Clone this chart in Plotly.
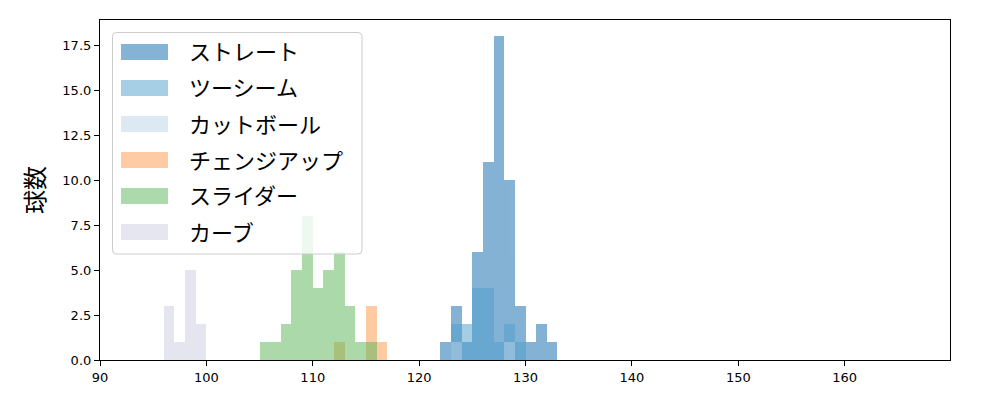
import plotly.graph_objects as go

# pitch types in draw / legend order
pitch_names = ["ストレート", "ツーシーム", "カットボール", "チェンジアップ", "スライダー", "カーブ"]
pitch_colors = [
    "rgb(11,103,173)",
    "rgb(77,157,203)",
    "rgb(185,209,229)",
    "rgb(251,153,75)",
    "rgb(89,181,85)",
    "rgb(205,205,225)",
]

# histogram bins (left edge, km/h) and counts, 1 km/h wide
straight_bins = [122, 123, 124, 125, 126, 127, 128, 129, 130, 131, 132]
straight_counts = [1, 3, 1, 6, 11, 18, 10, 3, 1, 2, 1]
twoseam_bins = [123, 124, 125, 126, 127, 128, 129]
twoseam_counts = [2, 2, 4, 4, 1, 2, 1]
cutter_bins = [123, 128]
cutter_counts = [1, 1]
change_bins = [112, 115, 116]
change_counts = [1, 3, 1]
slider_bins = [105, 106, 107, 108, 109, 110, 111, 112, 113, 114, 115]
slider_counts = [1, 1, 2, 5, 8, 4, 5, 6, 3, 1, 1]
curve_bins = [96, 97, 98, 99]
curve_counts = [3, 1, 5, 2]

x_ticks = [90, 100, 110, 120, 130, 140, 150, 160]
y_ticks = [0, 2.5, 5, 7.5, 10, 12.5, 15, 17.5]

series = [
    (straight_bins, straight_counts),
    (twoseam_bins, twoseam_counts),
    (cutter_bins, cutter_counts),
    (change_bins, change_counts),
    (slider_bins, slider_counts),
    (curve_bins, curve_counts),
]

# the page body adds an 8px margin, so the figure is sized to compensate
OFF = 8
W, H = 1000 - OFF, 400 - OFF
L, R, T, B = 100 - OFF, 50, 20 - OFF, 40
PW, PH = W - L - R, H - T - B


def px_x(px):
    return (px - OFF - L) / PW


def px_y(py):
    return (H - B - (py - OFF)) / PH


fig = go.Figure()
for name, color, (bins, counts) in zip(pitch_names, pitch_colors, series):
    fig.add_trace(
        go.Bar(
            x=bins,
            y=counts,
            width=1,
            offset=0,
            name=name,
            marker={"color": color, "line": {"width": 0}},
            opacity=0.5,
            showlegend=False,
        )
    )

# matplotlib-style legend box drawn over the bars
x0, x1 = px_x(112.5), px_x(362)
y0, y1 = px_y(254), px_y(32.5)
rx, ry = 4 / PW, 4 / PH
path = (
    f"M{x0 + rx},{y1} L{x1 - rx},{y1} Q{x1},{y1} {x1},{y1 - ry} "
    f"L{x1},{y0 + ry} Q{x1},{y0} {x1 - rx},{y0} "
    f"L{x0 + rx},{y0} Q{x0},{y0} {x0},{y0 + ry} "
    f"L{x0},{y1 - ry} Q{x0},{y1} {x0 + rx},{y1} Z"
)
shapes = [
    dict(
        type="path", xref="paper", yref="paper", path=path,
        fillcolor="rgba(255,255,255,0.8)", line={"color": "#cccccc", "width": 1},
        layer="above",
    )
]
annotations = []
for i, (name, color) in enumerate(zip(pitch_names, pitch_colors)):
    cy = 52 + 36 * i
    shapes.append(
        dict(
            type="rect", xref="paper", yref="paper",
            x0=px_x(121), x1=px_x(168), y0=px_y(cy + 8), y1=px_y(cy - 8),
            fillcolor=color, opacity=0.5, line={"width": 0}, layer="above",
        )
    )
    annotations.append(
        dict(
            xref="paper", yref="paper", x=px_x(187), y=px_y(cy + 1),
            xanchor="left", yanchor="middle", text=name, showarrow=False,
            font={"size": 22, "color": "#000000"},
        )
    )

fig.update_layout(
    width=W,
    height=H,
    margin={"l": L, "r": R, "t": T, "b": B},
    barmode="overlay",
    bargap=0,
    plot_bgcolor="white",
    paper_bgcolor="white",
    font={"family": "DejaVu Sans, Noto Sans CJK JP, sans-serif", "size": 13, "color": "#000000"},
    shapes=shapes,
    annotations=annotations,
    xaxis={
        "range": [90, 169.9],
        "tickvals": x_ticks,
        "ticks": "outside",
        "ticklen": 5,
        "tickwidth": 1,
        "tickcolor": "#000000",
        "showline": True,
        "linecolor": "#000000",
        "linewidth": 1.2,
        "mirror": True,
        "showgrid": False,
        "zeroline": False,
    },
    yaxis={
        "range": [0, 18.9],
        "tickvals": y_ticks,
        "tickformat": ".1f",
        "ticks": "outside",
        "ticklen": 5,
        "tickwidth": 1,
        "tickcolor": "#000000",
        "showline": True,
        "linecolor": "#000000",
        "linewidth": 1.2,
        "mirror": True,
        "showgrid": False,
        "zeroline": False,
        "title": {"text": "球数", "font": {"size": 24, "family": "Noto Sans CJK JP"}, "standoff": 10},
    },
)

fig.write_html("out.html")
